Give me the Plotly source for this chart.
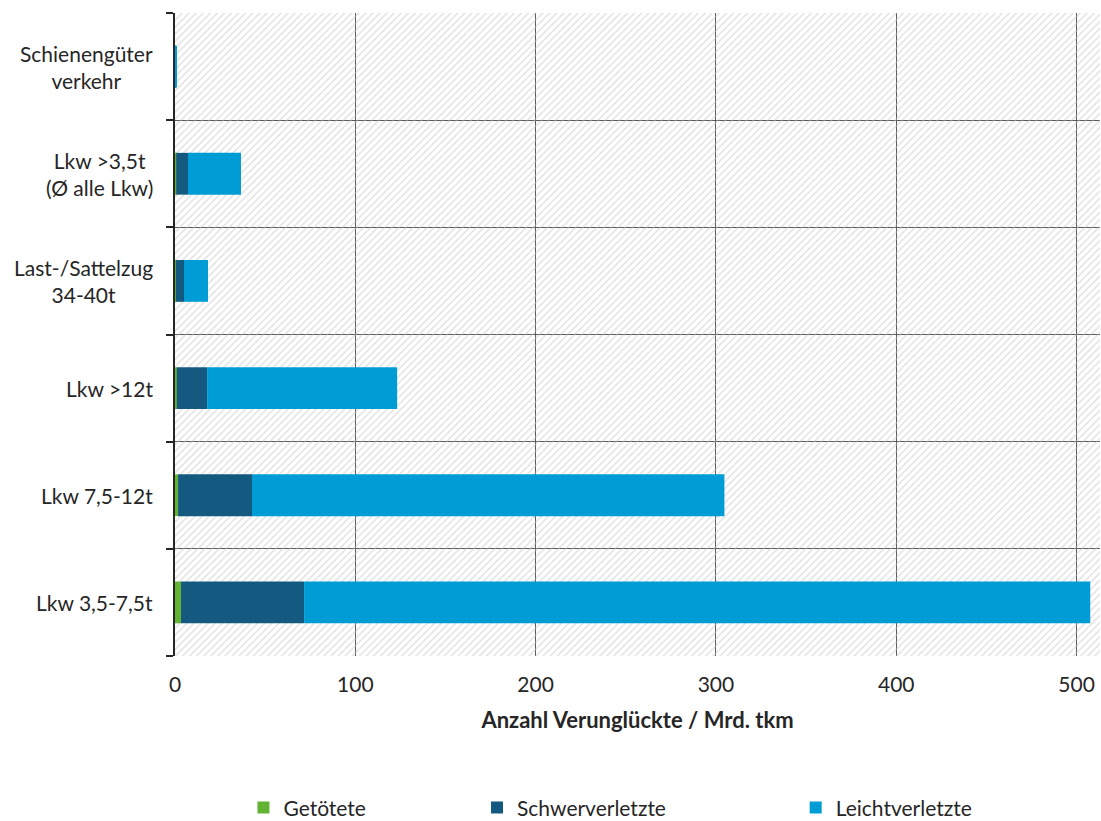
import plotly.graph_objects as go

# categories bottom -> top
categories = [
    "Lkw 3,5-7,5t",
    "Lkw 7,5-12t",
    "Lkw >12t",
    "Last-/Sattelzug<br>34-40t",
    "Lkw >3,5t<br>(Ø alle Lkw)",
    "Schienengüter<br>verkehr",
]
getoetete = [3.3, 1.7, 1.0, 0.5, 0.7, 0.05]
schwerverletzte = [68.3, 41.0, 16.8, 4.5, 6.5, 0.15]
leichtverletzte = [436.0, 262.0, 105.4, 13.3, 29.4, 0.9]

series = [
    ("Getötete", getoetete, "#62B331"),
    ("Schwerverletzte", schwerverletzte, "#145A80"),
    ("Leichtverletzte", leichtverletzte, "#009CD6"),
]
XMAX = 513
FONT = "Lato"
FS = 21

ypos = list(range(len(categories)))

fig = go.Figure()

# hatched plot background
fig.add_bar(
    y=ypos, x=[XMAX] * len(ypos), orientation="h", width=1,
    marker=dict(color="rgba(0,0,0,0)", line_width=0,
                pattern=dict(shape="/", fgcolor="#c6c6c6", size=5, solidity=0.3)),
    showlegend=False, hoverinfo="skip",
)

base = [0.0] * len(categories)
legend_ids = ["legend", "legend2", "legend3"]
for (name, vals, color), lg in zip(series, legend_ids):
    fig.add_bar(
        y=ypos, x=vals, base=list(base), orientation="h", width=0.39,
        name=name, marker=dict(color=color, line_width=0), legend=lg,
    )
    base = [b + v for b, v in zip(base, vals)]

# category labels, centred multi-line like the original
for y, label in zip(ypos, categories):
    fig.add_annotation(
        x=0, xref="paper", y=y, yref="y", text=label, showarrow=False,
        xanchor="right", yanchor="middle", align="center", xshift=-20,
        font=dict(size=FS),
    )

leg = dict(y=-0.236, yanchor="middle", xanchor="left", font=dict(size=FS), itemwidth=30)
fig.update_layout(
    width=1101, height=821,
    barmode="overlay",
    plot_bgcolor="white", paper_bgcolor="white",
    margin=dict(l=175, r=1, t=13, b=165, autoexpand=False),
    font=dict(family=FONT, size=FS, color="#262626"),
    legend=dict(x=0.074, **leg),
    legend2=dict(x=0.3265, **leg),
    legend3=dict(x=0.671, **leg),
)
fig.update_xaxes(
    range=[0, XMAX], tickvals=[0, 100, 200, 300, 400, 500],
    showgrid=True, gridcolor="#595959", gridwidth=1, zeroline=False,
    tickfont=dict(size=FS), ticks="", ticklabelstandoff=14,
    title=dict(text="<b>Anzahl Verunglückte / Mrd. tkm</b>", font=dict(size=FS + 1), standoff=17),
)
fig.update_yaxes(
    range=[-0.5, len(categories) - 0.5], tickvals=ypos, showticklabels=False,
    showgrid=False, zeroline=False, ticks="",
    showline=True, linecolor="#262626", linewidth=2,
    minor=dict(tickvals=[i - 0.5 for i in range(len(categories) + 1)],
               showgrid=True, gridcolor="#595959", gridwidth=1,
               ticks="outside", ticklen=7, tickcolor="#262626", tickwidth=2),
)

# drop the default body margin so the 1101x821 figure fills the window exactly
fig.write_html("out.html", config={"displayModeBar": False},
               post_script="document.body.style.margin='0';")
